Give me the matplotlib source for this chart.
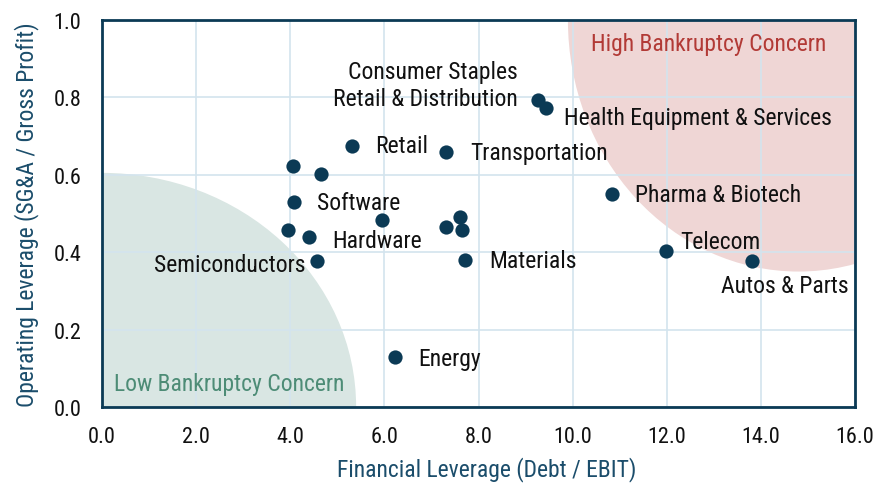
import matplotlib
matplotlib.use("Agg")
import matplotlib.pyplot as plt
from matplotlib.patches import Ellipse
from matplotlib import font_manager

names = {f.name for f in font_manager.fontManager.ttflist}
fam = [n for n in ["Roboto Condensed", "Liberation Sans Narrow", "Roboto"] if n in names] + ["DejaVu Sans"]
plt.rcParams['font.family'] = fam

# Data
sectors = ["Consumer Staples\nRetail & Distribution", "Health Equipment & Services", "Retail",
           "Transportation", "", "", "Software", "", "", "", "", "", "Hardware",
           "Semiconductors", "Materials", "Pharma & Biotech", "Telecom", "Autos & Parts", "Energy"]
financial_leverage = [9.27, 9.43, 5.31, 7.32, 4.06, 4.65, 4.09, 5.94, 7.61, 7.32, 7.65, 3.95,
                      4.40, 4.57, 7.72, 10.84, 11.99, 13.82, 6.23]
operating_leverage = [0.794, 0.772, 0.675, 0.658, 0.623, 0.601, 0.529, 0.483, 0.490, 0.464,
                      0.457, 0.457, 0.438, 0.376, 0.380, 0.550, 0.404, 0.378, 0.129]
# label offsets in pixels (dx, dy) and alignment
label_offsets = {
    "Consumer Staples\nRetail & Distribution": (-21, 15, "right"),
    "Health Equipment & Services": (18, -9, "left"),
    "Retail": (23, 0, "left"),
    "Transportation": (24, 0, "left"),
    "Software": (23, 0, "left"),
    "Hardware": (23, -3, "left"),
    "Semiconductors": (-12, -3, "right"),
    "Materials": (24, -1, "left"),
    "Pharma & Biotech": (23, 0, "left"),
    "Telecom": (14, 9, "left"),
    "Autos & Parts": (32, -25, "center"),
    "Energy": (23, -1, "left"),
}
xticks = [0, 2, 4, 6, 8, 10, 12, 14, 16]
yticks = [0.0, 0.2, 0.4, 0.6, 0.8, 1.0]

navy = "#0b3a55"
label_col = "#1b4d6b"

fig = plt.figure(figsize=(8.86, 4.85), dpi=100)
ax = fig.add_axes([102/886, 1-408/485, (855-102)/886, (408-21)/485])
ax.set_xlim(0, 16)
ax.set_ylim(0, 1.0)

ax.add_patch(Ellipse((0, 0), 2*5.4, 2*0.605, facecolor="#d9e6e3", edgecolor="none", zorder=0.1))
ax.add_patch(Ellipse((14.8, 1.0), 2*4.9, 2*0.65, facecolor="#efd6d5", edgecolor="none", zorder=0.1))

ax.grid(True, color="#d3e4ee", linewidth=1.2, zorder=0.5)
ax.set_axisbelow(True)

ax.scatter(financial_leverage, operating_leverage, s=105, color=navy, zorder=3, linewidths=0)

fs = 17
for name, x, y in zip(sectors, financial_leverage, operating_leverage):
    if not name:
        continue
    dx, dy, ha = label_offsets[name]
    ax.annotate(name, (x, y), xytext=(dx, dy), textcoords="offset pixels",
                ha=ha, va="center", fontsize=fs, color="#111111", multialignment=ha,
                linespacing=1.2, zorder=4)

ax.text(0.805, 0.94, "High Bankruptcy Concern", transform=ax.transAxes, fontsize=fs,
        color="#b23a36", ha="center", va="center")
ax.text(0.169, 0.062, "Low Bankruptcy Concern", transform=ax.transAxes, fontsize=fs,
        color="#4d8c76", ha="center", va="center")

ax.set_xticks(xticks)
ax.set_xticklabels([f"{v:.1f}" for v in xticks])
ax.set_yticks(yticks)
ax.set_yticklabels([f"{v:.1f}" for v in yticks])
ax.tick_params(length=0, labelsize=16, labelcolor="#111111")
ax.tick_params(axis="x", pad=14)
ax.tick_params(axis="y", pad=15)

for sp in ax.spines.values():
    sp.set_color(navy)
    sp.set_linewidth(2)

ax.set_xlabel("Financial Leverage (Debt / EBIT)", fontsize=fs, color=label_col)
ax.xaxis.set_label_coords(0.511, -0.128)
ax.set_ylabel("Operating Leverage (SG&A / Gross Profit)", fontsize=fs, color=label_col, labelpad=10)

fig.savefig("out.png", dpi=100)
